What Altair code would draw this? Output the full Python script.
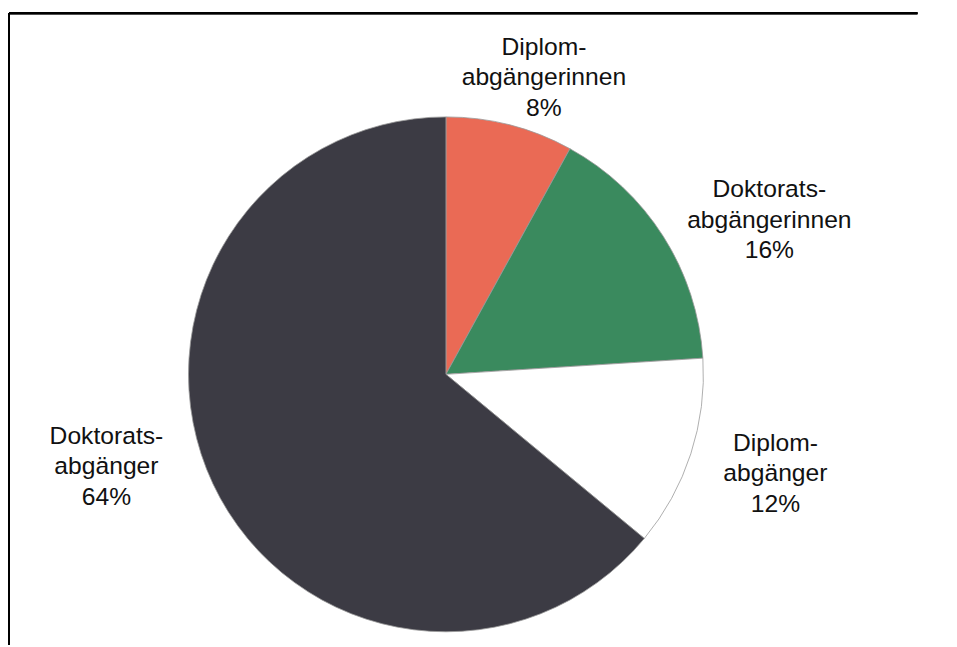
import altair as alt
import pandas as pd

categories = ["Diplomabgängerinnen", "Doktoratsabgängerinnen", "Diplomabgänger", "Doktoratsabgänger"]
shares = [8, 16, 12, 64]
label_lines = ["Diplom-\nabgängerinnen", "Doktorats-\nabgängerinnen", "Diplom-\nabgänger", "Doktorats-\nabgänger"]
colors = ["#ea6a55", "#3a8a5e", "#ffffff", "#3c3b44"]

df = pd.DataFrame({
    "cat": categories,
    "value": shares,
    "order": list(range(len(categories))),
    "label": [f"{l}\n{v}%" for l, v in zip(label_lines, shares)],
})

theta_scale = alt.Scale(domain=[0, 100])

arc = alt.Chart(df).mark_arc(outerRadius=261, stroke="#9a9a9a", strokeWidth=0.8).encode(
    theta=alt.Theta("value:Q", stack=True, scale=theta_scale),
    color=alt.Color("cat:N", scale=alt.Scale(domain=categories, range=colors), legend=None),
    order=alt.Order("order:Q"),
)

base_text = alt.Chart(df).transform_window(
    cum="sum(value)", sort=[alt.SortField("order")]
).transform_calculate(
    mid="datum.cum - datum.value / 2"
)

# per-label placement (radius, dx, dy)
placement = {
    "Diplomabgängerinnen": (319, 20, -23),
    "Doktoratsabgängerinnen": (367, 18, 9),
    "Diplomabgänger": (347, 4, -38),
    "Doktoratsabgänger": (355, -23, -89),
}

text_layers = []
for c in categories:
    r, dx, dy = placement[c]
    t = base_text.transform_filter(alt.datum.cat == c).mark_text(
        radius=r, dx=dx, dy=dy, fontSize=25, lineHeight=31, lineBreak="\n",
        font="Liberation Sans", color="#111111", align="center", baseline="middle",
    ).encode(
        theta=alt.Theta("mid:Q", stack=None, scale=theta_scale),
        text="label:N",
    )
    text_layers.append(t)

frame_top = alt.Chart(df).mark_rule(color="black", strokeWidth=2).encode(
    x=alt.value(-93), x2=alt.value(828), y=alt.value(-96)
)
frame_left = alt.Chart(df).mark_rule(color="black", strokeWidth=2).encode(
    x=alt.value(-93), y=alt.value(-96), y2=alt.value(545)
)

chart = alt.layer(arc, *text_layers, frame_top, frame_left).properties(
    width=700, height=540,
    padding={"left": 94, "top": 97, "right": 160, "bottom": 0},
    autosize="none",
    background="white",
).configure_view(strokeWidth=0)

chart.save("out.html", embed_options={"renderer": "svg", "actions": False})
